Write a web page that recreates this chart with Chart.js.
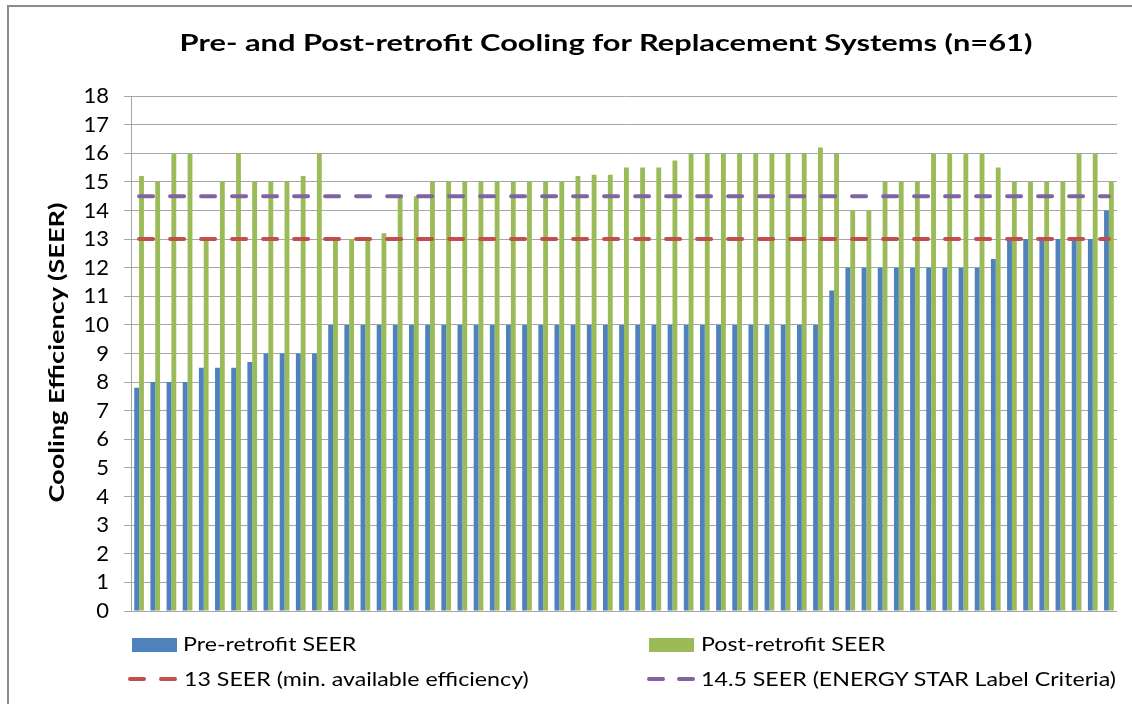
<!DOCTYPE html>
<html>
<head>
<meta charset="utf-8">
<script src="https://cdn.jsdelivr.net/npm/chart.js@4.4.1/dist/chart.umd.min.js"></script>
<style>
  html, body { margin: 0; padding: 0; background: #ffffff; }
  #wrap { position: relative; width: 1132px; height: 704px; overflow: hidden; background: #fff; font-family: Lato, "Open Sans", sans-serif; }
  #frame { position: absolute; left: 7px; top: 5px; width: 1140px; height: 720px; border-top: 2px solid #8c8c8c; border-left: 2px solid #8c8c8c; box-sizing: border-box; }
  #c { position: absolute; left: 0; top: 0; }
  #title { position: absolute; left: 0; width: 1212px; top: 29px; text-align: center; font-weight: bold; font-size: 23px; line-height: 1.2; color: #000; white-space: nowrap; transform: scaleX(1.34); transform-origin: 606px 50%; }
  #ytitle { position: absolute; left: -144px; top: 340px; width: 400px; text-align: center; font-weight: bold; font-size: 21px; line-height: 25.2px; color: #000; white-space: nowrap; transform: rotate(-90deg) scaleX(1.29); transform-origin: 50% 50%; }
  .leg { position: absolute; font-size: 20px; line-height: 1.2; color: #000; white-space: nowrap; transform: scaleX(1.16); transform-origin: 0 50%; }
  .box { position: absolute; height: 14px; width: 45px; }
  .dash { position: absolute; height: 4px; width: 18px; border-radius: 2px; }
</style>
</head>
<body>
<div id="wrap">
  <canvas id="c" width="1132" height="704"></canvas>
  <div id="frame"></div>
  <div id="title">Pre- and Post-retrofit Cooling for Replacement Systems (n=61)</div>
  <div id="ytitle">Cooling Efficiency (SEER)</div>

  <div class="box" style="left:132px; top:638px; background:#4F81BD;"></div>
  <div class="leg" style="left:183px; top:631px;">Pre-retrofit SEER</div>

  <div class="box" style="left:649px; top:638px; background:#9BBB59;"></div>
  <div class="leg" style="left:701px; top:631px;">Post-retrofit SEER</div>

  <div class="dash" style="left:128px; top:677px; background:#C0504D;"></div>
  <div class="dash" style="left:159px; top:677px; background:#C0504D;"></div>
  <div class="leg" style="left:184px; top:666px;">13 SEER (min. available efficiency)</div>

  <div class="dash" style="left:647px; top:677px; background:#8064A2;"></div>
  <div class="dash" style="left:677px; top:677px; background:#8064A2;"></div>
  <div class="leg" style="left:701px; top:666px;">14.5 SEER (ENERGY STAR Label Criteria)</div>
</div>
<script>
// ---- data ----
const categories = ["1","2","3","4","5","6","7","8","9","10",
  "11","12","13","14","15","16","17","18","19","20",
  "21","22","23","24","25","26","27","28","29","30",
  "31","32","33","34","35","36","37","38","39","40",
  "41","42","43","44","45","46","47","48","49","50",
  "51","52","53","54","55","56","57","58","59","60","61"];

const preRetrofit = [7.8, 8, 8, 8, 8.5, 8.5, 8.5, 8.7, 9, 9,
  9, 9, 10, 10, 10, 10, 10, 10, 10, 10,
  10, 10, 10, 10, 10, 10, 10, 10, 10, 10,
  10, 10, 10, 10, 10, 10, 10, 10, 10, 10,
  10, 10, 10, 11.2, 12, 12, 12, 12, 12, 12,
  12, 12, 12, 12.3, 13, 13, 13, 13, 13, 13, 14];

const postRetrofit = [15.2, 15, 16, 16, 13, 15, 16, 15, 15, 15,
  15.2, 16, 13, 13, 13, 13.2, 14.5, 14.5, 15, 15,
  15, 15, 15, 15, 15, 15, 15, 15.2, 15.25, 15.25,
  15.5, 15.5, 15.5, 15.75, 16, 16, 16, 16, 16, 16,
  16, 16, 16.2, 16, 14, 14, 15, 15, 15, 16,
  16, 16, 16, 15.5, 15, 15, 15, 15, 16, 16, 15];

const minAvailableSEER = 13;
const energyStarSEER = 14.5;
const yTicks = [0,1,2,3,4,5,6,7,8,9,10,11,12,13,14,15,16,17,18];

const BLUE = '#4F81BD', GREEN = '#9BBB59', RED = '#C0504D', PURPLE = '#8064A2';

function refLine(v) {
  return [{x: categories[0], y: v}, {x: categories[categories.length - 1], y: v}];
}

new Chart(document.getElementById('c'), {
  data: {
    labels: categories,
    datasets: [
      { type: 'bar', label: 'Pre-retrofit SEER', data: preRetrofit, backgroundColor: BLUE, order: 2,
        categoryPercentage: 0.6, barPercentage: 1.0 },
      { type: 'bar', label: 'Post-retrofit SEER', data: postRetrofit, backgroundColor: GREEN, order: 2,
        categoryPercentage: 0.6, barPercentage: 1.0 },
      { type: 'line', label: '13 SEER (min. available efficiency)', data: refLine(minAvailableSEER),
        borderColor: RED, borderWidth: 4, borderDash: [14, 17], borderCapStyle: 'round',
        pointRadius: 0, fill: false, order: 0 },
      { type: 'line', label: '14.5 SEER (ENERGY STAR Label Criteria)', data: refLine(energyStarSEER),
        borderColor: PURPLE, borderWidth: 4, borderDash: [14, 17], borderCapStyle: 'round',
        pointRadius: 0, fill: false, order: 0 }
    ]
  },
  options: {
    responsive: false,
    animation: false,
    devicePixelRatio: 1,
    layout: { padding: { left: 0, right: 15, top: 96, bottom: 93 } },
    plugins: { legend: { display: false }, title: { display: false }, tooltip: { enabled: false } },
    scales: {
      x: { type: 'category', display: false, offset: true, grid: { display: false } },
      y: {
        min: 0, max: 18,
        afterFit(scale) { scale.width = 131; },
        afterBuildTicks(scale) { scale.ticks = yTicks.map(v => ({ value: v })); },
        ticks: { stepSize: 1, autoSkip: false, color: '#000', padding: 15, font: { family: 'Lato', size: 22 } },
        grid: { color: '#A6A6A6', lineWidth: 1, tickLength: 7, drawTicks: true },
        border: { display: true, color: '#A6A6A6', width: 1 },
        title: { display: false }
      }
    }
  }
});
</script>
</body>
</html>
